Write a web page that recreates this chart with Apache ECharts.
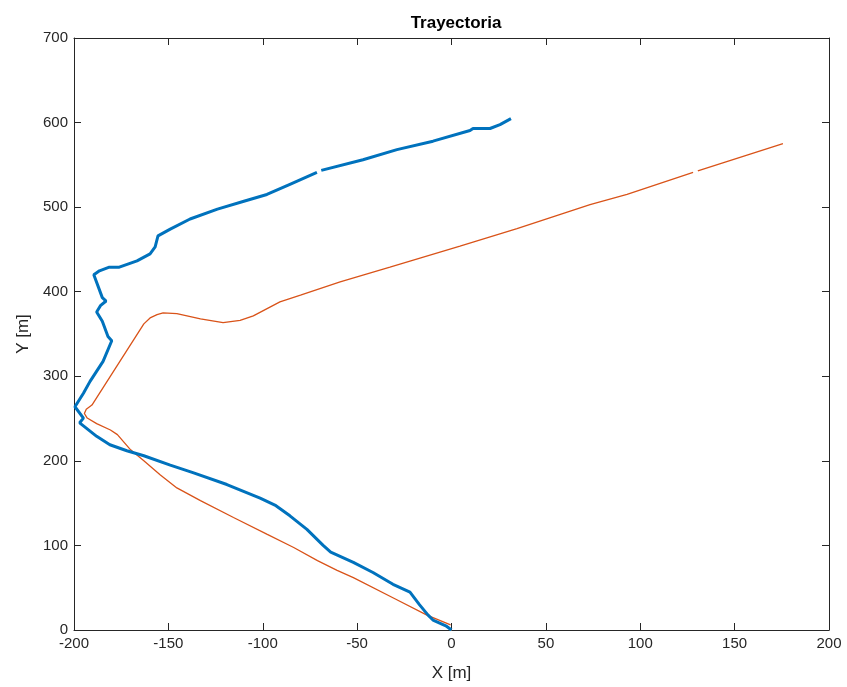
<!DOCTYPE html>
<html>
<head>
<meta charset="utf-8">
<script src="https://cdn.jsdelivr.net/npm/echarts@6/dist/echarts.min.js"></script>
<style>
  html, body { margin: 0; padding: 0; background: #fff; }
  #chart { width: 847px; height: 687px; }
</style>
</head>
<body>
<div id="chart"></div>
<script>
// Measured trajectory (blue), null marks a break in the track
const medidoX = [0, -3, -9.8, -12.4, -17, -22, -31, -41.6, -52, -64, -68, -76.6, -85.6, -93, -101.4,
  -119, -137, -149, -163, -172, -181, -188, -197, -195, -199.5, -195, -191.5, -184.6, -180, -182,
  -185, -188, -186, -183, -185, -189.5, -186.5, -181.3, -176, -166.6, -159.7, -157, -155.5, -149,
  -138.5, -124, -110, -97.8, -85.6, -71.3, null, -69, -46.9, -28.9, -9.8, 9.8, 11.4, 20.4, 25.7, 31.5];
const medidoY = [0, 5, 11.8, 17.6, 30, 44.7, 54, 68, 80, 92, 100, 119, 135, 147, 156,
  172, 186, 195, 206, 212, 219, 229, 245, 250.5, 264, 280, 294, 317.6, 342, 347,
  365, 376, 383.5, 389, 393, 420, 424.7, 429, 429, 436.5, 444.7, 453, 466, 474,
  486, 497.6, 507, 515, 527, 541, null, 543.5, 556, 568, 578, 590.6, 593, 593, 597.6, 604.7];

// Reference trajectory (orange)
const referenciaX = [-0.5, -13, -30, -52, -60.6, -71, -83.6, -97.6, -115.5, -133, -145.5, -154.4,
  -163, -170, -177, -180.7, -188, -193, -194.5, -193.5, -190.5, -163, -159.7, -156, -152.8, -145.5,
  -133, -121, -112, -105, -90.9, -80, -59, -32.6, 4.5, 34.7, 73.4, 93, 128, null, 130.5, 175.6];
const referenciaY = [6, 17.6, 37, 62, 70.6, 82, 97.6, 113, 133, 153, 168, 183.5,
  200, 213, 231, 236.5, 244, 250.6, 256, 261, 266, 362, 369, 373, 375, 374,
  368, 363.5, 366, 371.5, 388, 396, 411.6, 429, 454, 474.5, 503, 515, 541, null, 543, 575];

const xTicks = { min: -200, max: 200, interval: 50 };
const yTicks = { min: 0, max: 700, interval: 100 };

function pares(xs, ys) {
  return xs.map((x, i) => (x === null || ys[i] === null) ? [null, null] : [x, ys[i]]);
}

const ink = '#262626';
const font = '"Liberation Sans", Arial, sans-serif';

function eje(extra) {
  return Object.assign({
    type: 'value',
    axisLine: { show: true, onZero: false, lineStyle: { color: ink, width: 1 } },
    axisTick: { show: true, inside: true, length: 7, lineStyle: { color: ink, width: 1 } },
    splitLine: { show: false },
    axisLabel: { color: ink, fontFamily: font, fontSize: 15, margin: 6 }
  }, extra);
}

const chart = echarts.init(document.getElementById('chart'), null, { renderer: 'canvas' });
chart.setOption({
  backgroundColor: '#ffffff',
  animation: false,
  title: {
    text: 'Trayectoria',
    left: 451, top: 10, textAlign: 'center',
    textStyle: { fontFamily: font, fontSize: 17, fontWeight: 'bold', color: '#000' }
  },
  grid: { left: 74, right: 18, top: 38, bottom: 54 },
  xAxis: [
    eje(Object.assign({ position: 'bottom', name: 'X [m]', nameLocation: 'middle', nameGap: 35,
      nameTextStyle: { color: ink, fontFamily: font, fontSize: 17 } }, xTicks)),
    eje(Object.assign({ position: 'top', axisLabel: { show: false } }, xTicks))
  ],
  yAxis: [
    eje(Object.assign({ position: 'left', name: 'Y [m]', nameLocation: 'middle', nameGap: 42,
      nameTextStyle: { color: ink, fontFamily: font, fontSize: 17 } }, yTicks)),
    eje(Object.assign({ position: 'right', axisLabel: { show: false } }, yTicks))
  ],
  series: [
    {
      type: 'line', name: 'Medido', data: pares(medidoX, medidoY),
      showSymbol: false, connectNulls: false,
      lineStyle: { color: '#0072BD', width: 3 }, itemStyle: { color: '#0072BD' },
      z: 3
    },
    {
      type: 'line', name: 'Referencia', data: pares(referenciaX, referenciaY),
      showSymbol: false, connectNulls: false,
      lineStyle: { color: '#D95319', width: 1.3 }, itemStyle: { color: '#D95319' },
      z: 2
    }
  ]
});
</script>
</body>
</html>
